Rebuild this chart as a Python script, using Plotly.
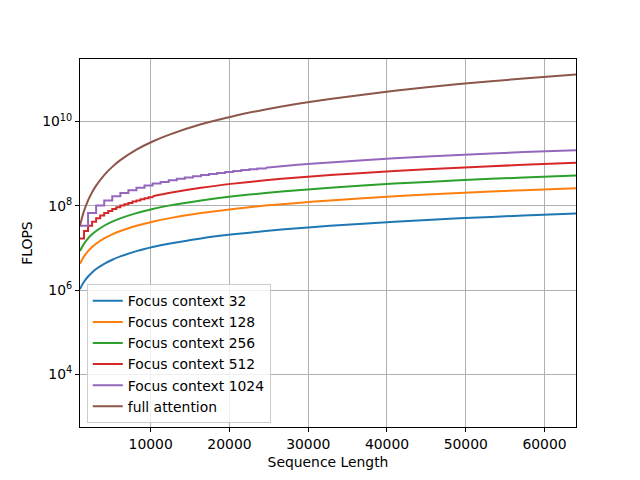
import plotly.graph_objects as go

# Sequence lengths sampled for the smooth curves
seq_len = [1024, 1280, 1536, 2048, 2560, 3072, 4096, 5120, 6144, 8192, 10240,
           12288, 16384, 20480, 24576, 28672, 32768, 40960, 49152, 57344, 64000]

flops_fc32 = [1.05e6, 1.31e6, 1.57e6, 2.10e6, 2.62e6, 3.15e6, 4.19e6, 5.24e6, 6.29e6,
              8.39e6, 1.05e7, 1.26e7, 1.68e7, 2.10e7, 2.52e7, 2.94e7, 3.36e7, 4.19e7,
              5.03e7, 5.87e7, 6.55e7]
flops_fc128 = [4.19e6, 5.24e6, 6.29e6, 8.39e6, 1.05e7, 1.26e7, 1.68e7, 2.10e7, 2.52e7,
               3.36e7, 4.19e7, 5.03e7, 6.71e7, 8.39e7, 1.01e8, 1.17e8, 1.34e8, 1.68e8,
               2.01e8, 2.35e8, 2.62e8]
flops_fc256 = [8.39e6, 1.05e7, 1.26e7, 1.68e7, 2.10e7, 2.52e7, 3.36e7, 4.19e7, 5.03e7,
               6.71e7, 8.39e7, 1.01e8, 1.34e8, 1.68e8, 2.01e8, 2.35e8, 2.68e8, 3.36e8,
               4.03e8, 4.70e8, 5.24e8]
flops_full = [3.36e7, 5.24e7, 7.55e7, 1.34e8, 2.10e8, 3.02e8, 5.37e8, 8.39e8, 1.21e9,
              2.15e9, 3.36e9, 4.83e9, 8.59e9, 1.34e10, 1.93e10, 2.63e10, 3.44e10,
              5.37e10, 7.73e10, 1.05e11, 1.31e11]

# Focus context 512: staircase part, then smooth tail
fc512_step_x = [1024, 1536, 2048, 2560, 3072, 3584, 4096, 4608, 5120, 5632, 6144, 6656,
                7168, 7680, 8192, 8704, 9216, 9728, 10240]
fc512_step_y = [1.68e7, 2.52e7, 3.36e7, 4.19e7, 5.03e7, 5.87e7, 6.71e7, 7.55e7, 8.39e7,
                9.23e7, 1.01e8, 1.09e8, 1.17e8, 1.26e8, 1.34e8, 1.43e8, 1.51e8, 1.59e8,
                1.68e8]
fc512_tail_x = [10240, 12288, 16384, 20480, 24576, 28672, 32768, 40960, 49152, 57344, 64000]
fc512_tail_y = [1.68e8, 2.01e8, 2.68e8, 3.36e8, 4.03e8, 4.70e8, 5.37e8, 6.71e8, 8.05e8,
                9.40e8, 1.05e9]

# Focus context 1024: staircase part, then smooth tail
fc1024_step_x = [1024, 2048, 3072, 4096, 5120, 6144, 7168, 8192, 9216, 10240, 11264,
                 12288, 13312, 14336, 15360, 16384, 17408, 18432, 19456, 20480, 21504,
                 22528, 23552, 24576]
fc1024_step_y = [3.36e7, 6.71e7, 1.01e8, 1.34e8, 1.68e8, 2.01e8, 2.35e8, 2.68e8, 3.02e8,
                 3.36e8, 3.69e8, 4.03e8, 4.36e8, 4.70e8, 5.03e8, 5.37e8, 5.70e8, 6.04e8,
                 6.38e8, 6.71e8, 7.05e8, 7.38e8, 7.72e8, 8.05e8]
fc1024_tail_x = [24576, 28672, 32768, 40960, 49152, 57344, 64000]
fc1024_tail_y = [8.05e8, 9.40e8, 1.07e9, 1.34e9, 1.61e9, 1.88e9, 2.08e9]

colors = ["#1f77b4", "#ff7f0e", "#2ca02c", "#d62728", "#9467bd", "#8c564b"]
FONT = "DejaVu Sans"

fig = go.Figure()

def smooth(x, y, name, color, group, show=True):
    fig.add_trace(go.Scatter(x=x, y=y, mode="lines", name=name, legendgroup=group,
                             showlegend=show,
                             line=dict(color=color, width=2, shape="spline", smoothing=0.6)))

def steps(x, y, name, color, group):
    fig.add_trace(go.Scatter(x=x, y=y, mode="lines", name=name, legendgroup=group,
                             showlegend=False,
                             line=dict(color=color, width=2, shape="hv")))

smooth(seq_len, flops_fc32, "Focus context 32", colors[0], "g1")
smooth(seq_len, flops_fc128, "Focus context 128", colors[1], "g2")
smooth(seq_len, flops_fc256, "Focus context 256", colors[2], "g3")
smooth(fc512_tail_x, fc512_tail_y, "Focus context 512", colors[3], "g4")
steps(fc512_step_x, fc512_step_y, "Focus context 512", colors[3], "g4")
smooth(fc1024_tail_x, fc1024_tail_y, "Focus context 1024", colors[4], "g5")
steps(fc1024_step_x, fc1024_step_y, "Focus context 1024", colors[4], "g5")
smooth(seq_len, flops_full, "full attention", colors[5], "g6")

axis_common = dict(
    showline=True, linecolor="black", linewidth=1, mirror=True,
    showgrid=True, gridcolor="#b0b0b0", gridwidth=1,
    ticks="outside", ticklen=4, tickwidth=1, tickcolor="black",
    tickfont=dict(family=FONT, size=13.9, color="black"),
    zeroline=False,
)

fig.update_layout(
    width=640, height=480,
    margin=dict(l=72, r=72, t=51, b=61),
    paper_bgcolor="white", plot_bgcolor="white",
    font=dict(family=FONT, size=13.9, color="black"),
    xaxis=dict(range=[1024, 64000],
               tickvals=[10000, 20000, 30000, 40000, 50000, 60000],
               ticktext=["10000", "20000", "30000", "40000", "50000", "60000"],
               title=dict(text="Sequence Length", standoff=6,
                          font=dict(family=FONT, size=13.9, color="black")),
               **axis_common),
    yaxis=dict(type="log", range=[2.75, 11.484],
               tickvals=[1e4, 1e6, 1e8, 1e10],
               ticktext=["10<sup>4</sup>", "10<sup>6</sup>", "10<sup>8</sup>", "10<sup>10</sup>"],
               title=dict(text="FLOPS", standoff=6,
                          font=dict(family=FONT, size=13.9, color="black")),
               **axis_common),
    legend=dict(x=0.0137, y=0.010, xanchor="left", yanchor="bottom",
                bgcolor="rgba(255,255,255,0.8)", bordercolor="#cccccc", borderwidth=1,
                font=dict(family=FONT, size=13.9, color="black"),
                tracegroupgap=2, traceorder="normal"),
    showlegend=True,
)

fig.write_html("out.html")
